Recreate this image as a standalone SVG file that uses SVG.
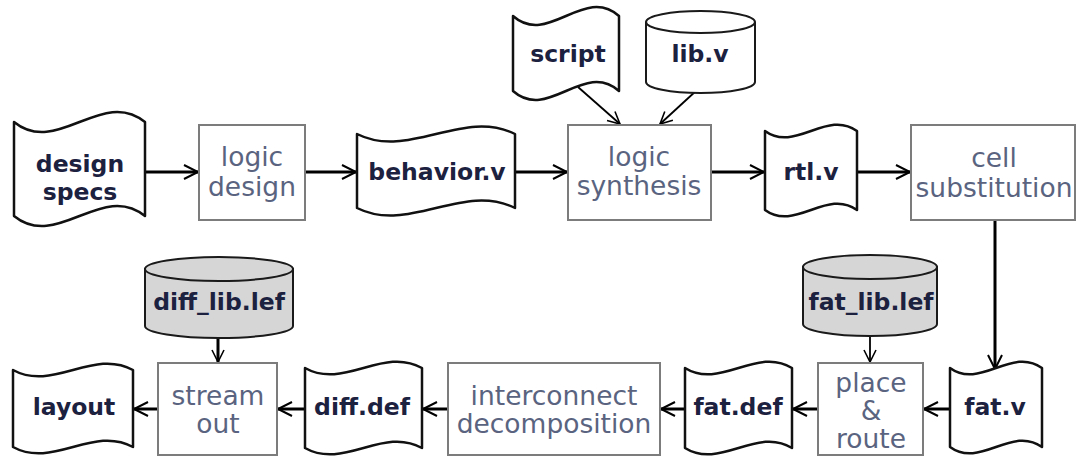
<svg xmlns="http://www.w3.org/2000/svg" width="1080" height="458" viewBox="0 0 1080 458">
<style>
.tape{fill:#fff;stroke:#111;stroke-width:2.5;stroke-linejoin:round}
.box{fill:#fff;stroke:#7c7c7c;stroke-width:2}
.cyl{fill:#fff;stroke:#1a1a1a;stroke-width:2}
.cylg{fill:#d6d6d6;stroke:#1a1a1a;stroke-width:2}
.tt{font-family:"DejaVu Sans",sans-serif;font-weight:bold;font-size:23.5px;fill:#1c2140;text-anchor:middle}
.bt{font-family:"DejaVu Sans",sans-serif;font-size:26.5px;fill:#5a6480;text-anchor:middle}
.c{fill:none;stroke:#000;stroke-width:3}
.cn{fill:none;stroke:#000;stroke-width:1.8}
</style>
<defs>
<marker id="ah" markerUnits="userSpaceOnUse" markerWidth="18" markerHeight="18" refX="15" refY="8" orient="auto">
<path d="M1,1 L15,8 L1,15" fill="none" stroke="#000" stroke-width="2"/>
</marker>
<marker id="ahs" markerUnits="userSpaceOnUse" markerWidth="16" markerHeight="16" refX="13" refY="7" orient="auto">
<path d="M1,1 L13,7 L1,13" fill="none" stroke="#000" stroke-width="1.6"/>
</marker>
</defs>

<g id="connectors">
<line class="c" x1="145" y1="172" x2="198" y2="172" marker-end="url(#ah)"/>
<line class="c" x1="305" y1="172" x2="356" y2="172" marker-end="url(#ah)"/>
<line class="c" x1="515" y1="172" x2="567" y2="172" marker-end="url(#ah)"/>
<line class="c" x1="711" y1="172" x2="764" y2="172" marker-end="url(#ah)"/>
<line class="c" x1="857" y1="172" x2="910" y2="172" marker-end="url(#ah)"/>
<line class="c" x1="995" y1="220" x2="995" y2="369" marker-end="url(#ah)"/>
<line class="c" x1="950" y1="409" x2="924" y2="409" marker-end="url(#ah)"/>
<line class="c" x1="818" y1="409" x2="793" y2="409" marker-end="url(#ah)"/>
<line class="c" x1="685" y1="409" x2="661" y2="409" marker-end="url(#ah)"/>
<line class="c" x1="448" y1="409" x2="423" y2="409" marker-end="url(#ah)"/>
<line class="c" x1="305" y1="409" x2="278" y2="409" marker-end="url(#ah)"/>
<line class="c" x1="158" y1="409" x2="134" y2="409" marker-end="url(#ah)"/>
<line class="cn" x1="578" y1="87" x2="620" y2="124" marker-end="url(#ahs)"/>
<line class="cn" x1="697" y1="90" x2="660" y2="124" marker-end="url(#ahs)"/>
<line class="c" x1="218" y1="338" x2="218" y2="362" marker-end="url(#ahs)"/>
<line class="cn" x1="870" y1="336" x2="870" y2="362" marker-end="url(#ahs)"/>
</g>

<g id="design_specs">
<path class="tape" d="M14,122 C57,157 102,87 145,122 L145,216 C102,181 57,251 14,216 Z"/>
<text class="tt" x="80" y="172">design</text>
<text class="tt" x="80" y="200">specs</text>
</g>

<g id="logic_design">
<rect class="box" x="199" y="125" width="106" height="95"/>
<text class="bt" x="252" y="166">logic</text>
<text class="bt" x="252" y="196">design</text>
</g>

<g id="behavior_v">
<path class="tape" d="M357,134 C409,160 463,108 515,134 L515,208 C463,182 409,234 357,208 Z"/>
<text class="tt" x="437" y="180">behavior.v</text>
</g>

<g id="script">
<path class="tape" d="M513,16 C548,47 584,-15 619,16 L619,91 C584,60 548,122 513,91 Z"/>
<text class="tt" x="568" y="62">script</text>
</g>

<g id="lib_v">
<path class="cyl" d="M646,22 L646,82 A54.5,11 0 0 0 755,82 L755,22"/>
<ellipse class="cyl" cx="700.5" cy="22" rx="54.5" ry="11"/>
<text class="tt" x="700" y="62">lib.v</text>
</g>

<g id="logic_synthesis">
<rect class="box" x="568" y="125" width="143" height="95"/>
<text class="bt" x="639" y="166">logic</text>
<text class="bt" x="639" y="195">synthesis</text>
</g>

<g id="rtl_v">
<path class="tape" d="M765,131 C795,153 827,109 857,131 L857,210 C827,188 795,232 765,210 Z"/>
<text class="tt" x="811" y="180">rtl.v</text>
</g>

<g id="cell_substitution">
<rect class="box" x="911" y="125" width="164" height="95"/>
<text class="bt" x="994" y="167">cell</text>
<text class="bt" x="994" y="197">substitution</text>
</g>

<g id="fat_v">
<path class="tape" d="M950,368 C980,390 1012,346 1042,368 L1042,447 C1012,425 980,469 950,447 Z"/>
<text class="tt" x="995" y="415">fat.v</text>
</g>

<g id="fat_lib_lef">
<path class="cylg" d="M803,267 L803,324 A67,12 0 0 0 937,324 L937,267 Z"/>
<ellipse class="cylg" cx="870" cy="267" rx="67" ry="12"/>
<text class="tt" x="871" y="310">fat_lib.lef</text>
</g>

<g id="place_route">
<rect class="box" x="818" y="363" width="105" height="92"/>
<text class="bt" x="871" y="392">place</text>
<text class="bt" x="871" y="420">&amp;</text>
<text class="bt" x="871" y="448">route</text>
</g>

<g id="fat_def">
<path class="tape" d="M685,368 C720,390 757,346 792,368 L792,448 C757,426 720,470 685,448 Z"/>
<text class="tt" x="738" y="415">fat.def</text>
</g>

<g id="interconnect_decomposition">
<rect class="box" x="448" y="363" width="212" height="92"/>
<text class="bt" x="554" y="405">interconnect</text>
<text class="bt" x="554" y="433">decomposition</text>
</g>

<g id="diff_def">
<path class="tape" d="M305,368 C344,390 383,346 422,368 L422,448 C383,426 344,470 305,448 Z"/>
<text class="tt" x="362" y="415">diff.def</text>
</g>

<g id="diff_lib_lef">
<path class="cylg" d="M145,269 L145,326 A74,12 0 0 0 293,326 L293,269 Z"/>
<ellipse class="cylg" cx="219" cy="269" rx="74" ry="12"/>
<text class="tt" x="219" y="310">diff_lib.lef</text>
</g>

<g id="stream_out">
<rect class="box" x="158" y="363" width="119" height="92"/>
<text class="bt" x="218" y="405">stream</text>
<text class="bt" x="218" y="433">out</text>
</g>

<g id="layout">
<path class="tape" d="M13,370 C53,392 93,348 133,370 L133,447 C93,425 53,469 13,447 Z"/>
<text class="tt" x="74" y="415">layout</text>
</g>
</svg>
